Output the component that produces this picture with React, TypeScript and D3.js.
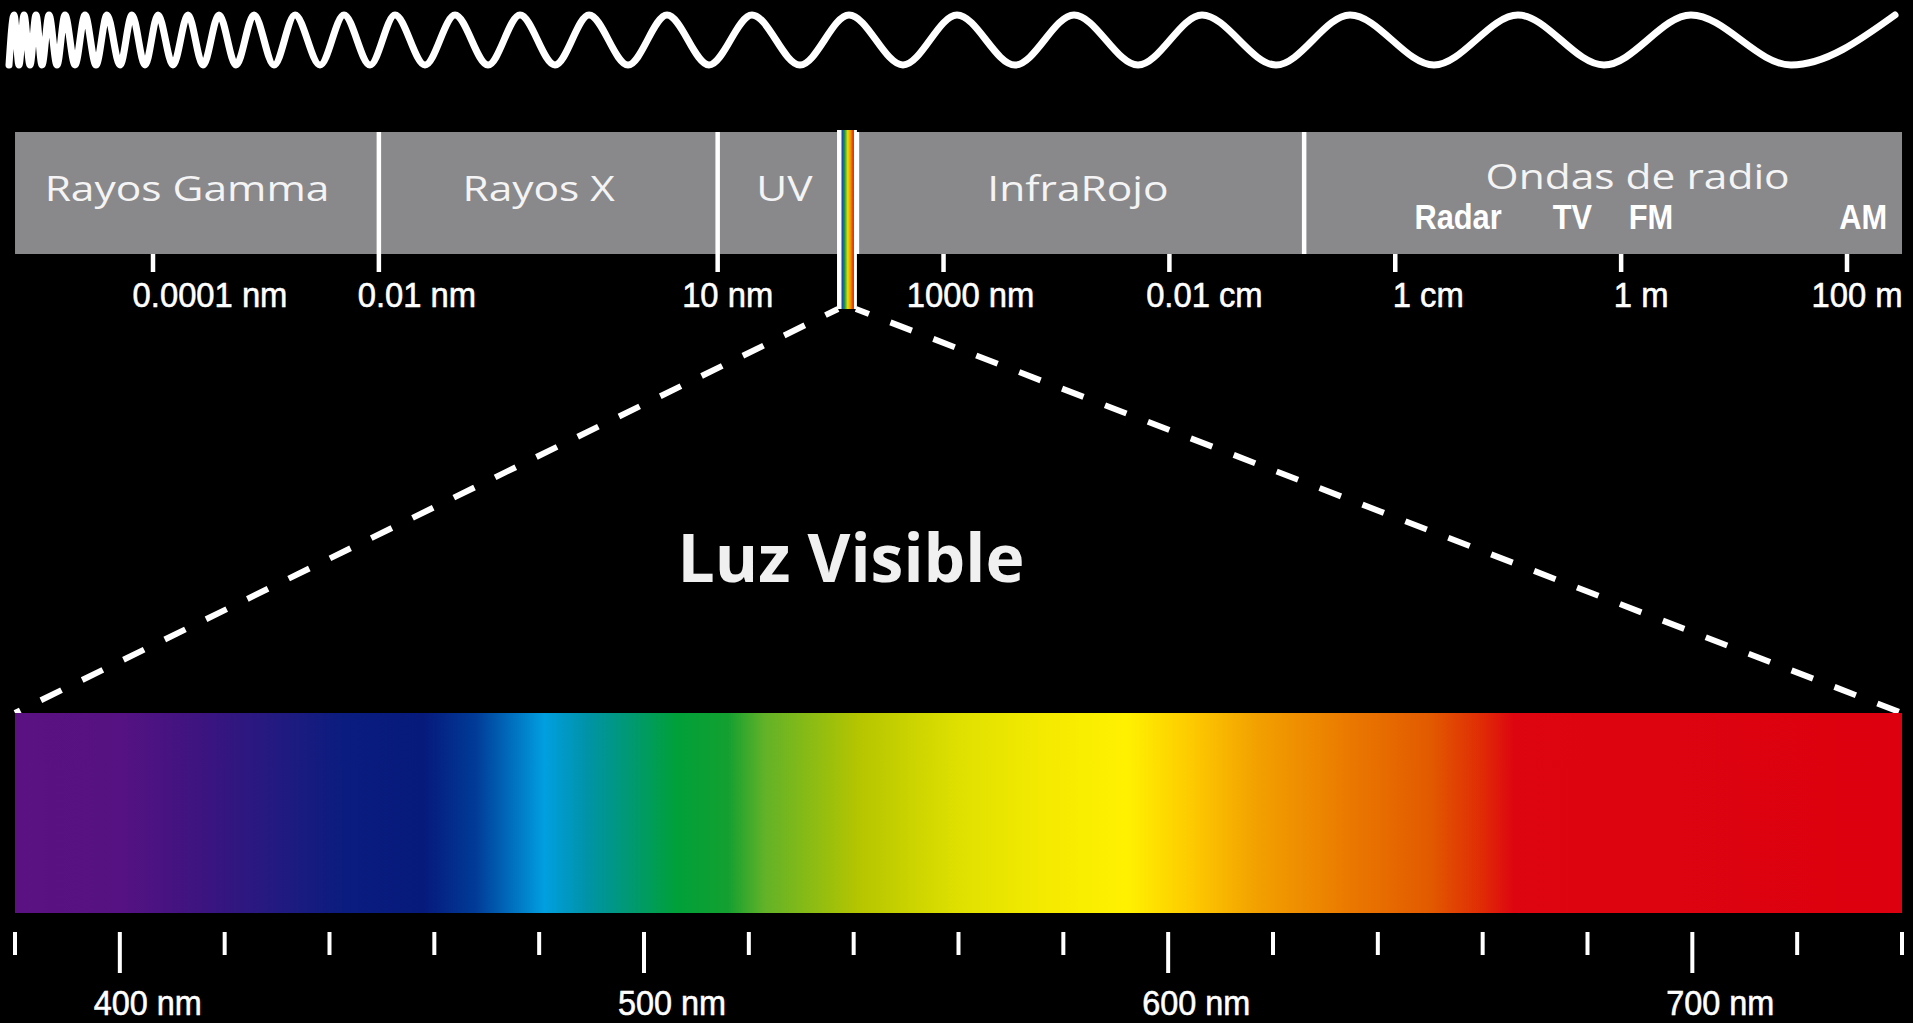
import * as d3 from "d3";

const width = 1913;
const height = 1023;

// wave crests / troughs (px along the top strip)
const waveCrests = [14, 24, 36, 49, 65, 85, 107, 132, 158, 188, 219, 254, 295, 344, 395, 455, 520, 589, 667, 752, 849, 957, 1074, 1202, 1350, 1518, 1691, 1895];
const waveTroughs = [9, 19, 30, 42, 57, 75, 96, 120, 145, 173, 203, 236, 274, 320, 370, 425, 488, 555, 628, 709, 800, 903, 1015, 1138, 1276, 1434, 1604, 1791];

// bands of the spectrum, wavelength in metres
const bandNames = ["Rayos Gamma", "Rayos X", "UV", "InfraRojo", "Ondas de radio"];
const bandFrom = [6e-15, 1e-11, 1e-8, 1.71e-7, 1.56e-3];
const bandTo = [1e-11, 1e-8, 1.14e-7, 1.56e-3, 3.07e2];
const bandLabelAt = [2e-13, 2.6e-10, 3.9e-8, 1.55e-5, 1.4];
const visibleBand = [1.14e-7, 1.71e-7];

const radioNames = ["Radar", "TV", "FM", "AM"];
const radioAt = [0.036, 0.37, 1.84, 139];

const scaleTicks = [1e-13, 1e-11, 1e-8, 1e-6, 1e-4, 1e-2, 1, 1e2];
const scaleTickLabels = ["0.0001 nm", "0.01 nm", "10 nm", "1000 nm", "0.01 cm", "1 cm", "1 m", "100 m"];
const scaleTickLabelDx = [57, 38, 10, 27, 35, 33, 20, 10];

// visible light, nm
const nmDomain = [380, 740];
const nmMajor = [400, 500, 600, 700];
const nmMajorLabels = ["400 nm", "500 nm", "600 nm", "700 nm"];
const spectrumNm = [380, 400, 416, 430, 443, 458, 468, 481, 489, 506, 516, 523, 541, 560, 576, 592, 605, 617, 635, 650, 660, 666, 740];
const spectrumColor = ["#5b1181", "#561282", "#3c1480", "#221a80", "#0a1c7f", "#061a7c", "#003c98", "#009fe0", "#0093a8", "#00a03a", "#13a030", "#62b228", "#b5c500", "#dfe000", "#f4ea00", "#fff100", "#fdc800", "#f2a000", "#ea7800", "#e25a00", "#e02a06", "#dd0510", "#dd000e"];
const stripColors = ["#1c2fd0", "#1c9a3a", "#e8e000", "#f08a00", "#e01010"];

const labelFont = "'Open Sans', 'DejaVu Sans', sans-serif";
const numFont = "'Liberation Sans', Arial, sans-serif";

export default function App() {
  const xw = d3.scaleLinear([0, width], [0, width]);
  const yw = d3.scaleLinear([-1, 1], [65, 15]);
  const wavePts: [number, number][] = [
    ...waveCrests.map((c) => [c, 1] as [number, number]),
    ...waveTroughs.map((t) => [t, -1] as [number, number]),
  ].sort((a, b) => a[0] - b[0]);
  const wave = d3
    .line<[number, number]>()
    .x((d) => xw(d[0]))
    .y((d) => yw(d[1]))
    .curve(d3.curveMonotoneX)(wavePts);

  const x = d3.scaleLog([1e-13, 1e2], [153, 1847]);
  const barTop = 132;
  const barBottom = 254;

  const xn = d3.scaleLinear(nmDomain, [15, 1902]);
  const specTop = 713;
  const specBottom = 913;
  const nmTicks = d3.range(nmDomain[0], nmDomain[1] + 1, 20);

  const vx0 = x(visibleBand[0]);
  const vx1 = x(visibleBand[1]);
  const stripBottom = 309;

  return (
    <svg
      width={width}
      height={height}
      style={{ position: "fixed", left: 0, top: 0, display: "block", background: "#000" }}
    >
      <defs>
        <linearGradient id="spec" gradientUnits="userSpaceOnUse" x1={xn(nmDomain[0])} x2={xn(nmDomain[1])} y1={0} y2={0}>
          {spectrumNm.map((nm, i) => (
            <stop key={i} offset={(nm - nmDomain[0]) / (nmDomain[1] - nmDomain[0])} stopColor={spectrumColor[i]} />
          ))}
        </linearGradient>
        <linearGradient id="strip" x1="0" x2="1" y1="0" y2="0">
          {stripColors.map((c, i) => (
            <stop key={i} offset={i / (stripColors.length - 1)} stopColor={c} />
          ))}
        </linearGradient>
      </defs>
      <rect width={width} height={height} fill="#000" />

      <path d={wave ?? ""} fill="none" stroke="#fff" strokeWidth={7} strokeLinecap="round" />

      {/* electromagnetic bar */}
      <rect x={x(bandFrom[0])} y={barTop} width={x(bandTo[4]) - x(bandFrom[0])} height={barBottom - barTop} fill="#89888b" />
      {bandFrom.slice(1).map((b, i) => (
        <line key={i} x1={x(b)} x2={x(b)} y1={barTop} y2={barBottom} stroke="#fff" strokeWidth={4.5} />
      ))}
      {bandNames.map((n, i) => (
        <g key={n} transform={`translate(${x(bandLabelAt[i])},${i === 4 ? 189 : 201}) scale(1.25,1)`}>
          <text textAnchor="middle" fontFamily={labelFont} fontSize={34} fill="#f4f4f4">
            {n}
          </text>
        </g>
      ))}
      {radioNames.map((n, i) => (
        <g key={n} transform={`translate(${x(radioAt[i])},229) scale(0.88,1)`}>
          <text textAnchor="middle" fontFamily={numFont} fontWeight="bold" fontSize={35} fill="#fff">
            {n}
          </text>
        </g>
      ))}
      {scaleTicks.map((t, i) => (
        <g key={i}>
          <line x1={x(t)} x2={x(t)} y1={barBottom} y2={272} stroke="#fff" strokeWidth={4.5} />
          <g transform={`translate(${x(t) + scaleTickLabelDx[i]},307) scale(0.91,1)`}>
            <text textAnchor="middle" fontFamily={numFont} fontSize={36} fill="#fff" stroke="#fff" strokeWidth={0.6}>
              {scaleTickLabels[i]}
            </text>
          </g>
        </g>
      ))}

      {/* visible strip */}
      <rect x={vx0} y={barTop - 2} width={vx1 - vx0} height={stripBottom - barTop + 2} fill="#fff" />
      <rect x={vx0 + 4.5} y={barTop - 2} width={vx1 - vx0 - 7.5} height={stripBottom - barTop + 2} fill="url(#strip)" />

      {/* zoom lines */}
      <line
        x1={vx0 + 1}
        y1={stripBottom}
        x2={xn(nmDomain[0])}
        y2={specTop}
        stroke="#fff"
        strokeWidth={6}
        strokeDasharray="23 23"
        strokeDashoffset={9}
      />
      <line
        x1={vx1 - 1}
        y1={stripBottom}
        x2={xn(nmDomain[1])}
        y2={specTop}
        stroke="#fff"
        strokeWidth={6}
        strokeDasharray="23 23"
        strokeDashoffset={9}
      />

      <text x={851} y={582} textAnchor="middle" fontFamily={labelFont} fontWeight="bold" fontSize={66} fill="#f0f0f0">
        Luz Visible
      </text>

      {/* visible spectrum */}
      <rect x={xn(nmDomain[0])} y={specTop} width={xn(nmDomain[1]) - xn(nmDomain[0])} height={specBottom - specTop} fill="url(#spec)" />
      {nmTicks.map((t) => {
        const major = nmMajor.includes(t);
        return (
          <line key={t} x1={xn(t)} x2={xn(t)} y1={932} y2={major ? 973 : 955} stroke="#fff" strokeWidth={4} />
        );
      })}
      {nmMajor.map((t, i) => (
        <g key={t} transform={`translate(${xn(t) + 28},1015) scale(0.9,1)`}>
          <text textAnchor="middle" fontFamily={numFont} fontSize={36} fill="#fff" stroke="#fff" strokeWidth={0.6}>
            {nmMajorLabels[i]}
          </text>
        </g>
      ))}
    </svg>
  );
}
